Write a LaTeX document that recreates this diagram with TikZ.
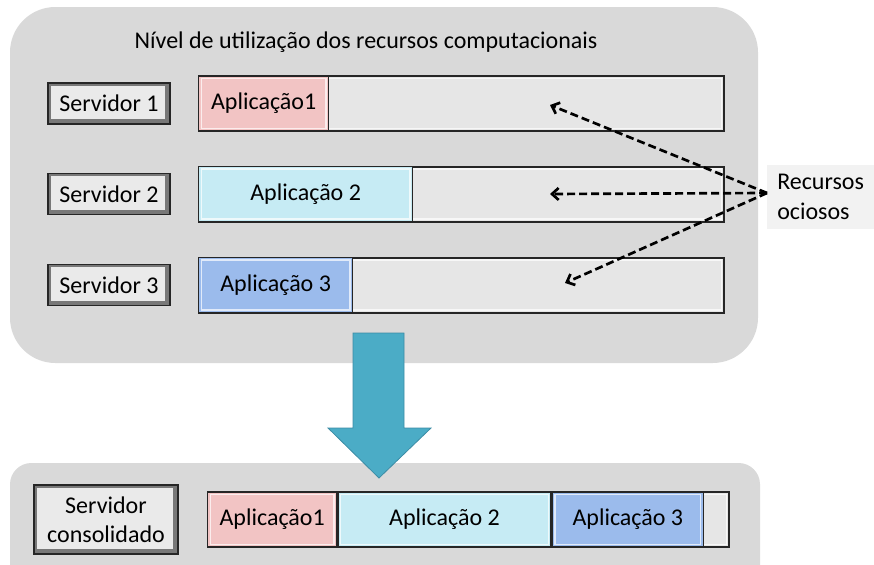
\documentclass[tikz,border=0pt]{standalone}
\usepackage{fontspec}
\setmainfont{Carlito}
\usetikzlibrary{arrows.meta}
\definecolor{panelgrey}{RGB}{217,217,217}
\definecolor{idlegrey}{RGB}{230,230,230}
\definecolor{btnface}{RGB}{234,234,234}
\definecolor{btnedge}{RGB}{120,120,120}
\definecolor{apppink}{RGB}{242,196,196}
\definecolor{appcyan}{RGB}{198,235,244}
\definecolor{appblue}{RGB}{155,187,236}
\definecolor{arrowblue}{RGB}{75,172,198}
\definecolor{arrowedge}{RGB}{60,140,165}
\definecolor{labelgrey}{RGB}{242,242,242}
\begin{document}
\begin{tikzpicture}[x=0.75pt,y=-0.75pt,font=\fontsize{18}{22}\selectfont]
      \tikzset{server node/.style={rectangle, draw=black!85, line width=1pt, fill=btnedge, inner sep=0pt,
          minimum width=91.5pt, minimum height=30.75pt,
          path picture={\fill[btnface] ([shift={(2.5pt,3.5pt)}]path picture bounding box.south west)
            rectangle ([shift={(-3.5pt,-2pt)}]path picture bounding box.north east);}}}
      \tikzset{bar node/.style={rectangle, draw=black!85, line width=1.5pt, fill=idlegrey, inner sep=0pt,
          anchor=west, minimum width=#1, minimum height=41.25pt,
          path picture={\draw[white, line width=1.2pt, opacity=0.7]
            ([shift={(2pt,2pt)}]path picture bounding box.south west)
            rectangle ([shift={(-2pt,-2pt)}]path picture bounding box.north east);}}}
      \tikzset{app node/.style={bar node=#1, line width=1pt}}
      \tikzset{idle arrow/.style={black, line width=2pt, dash pattern=on 6pt off 3pt, -{Straight Barb[length=5pt,width=9pt]}}}
      \useasboundingbox (0,0) rectangle (874,564);
      \clip (0,0) rectangle (874,564);
      % panels
      \fill[panelgrey, rounded corners=34pt] (10,7) rectangle (758,363);
      \fill[panelgrey, rounded corners=16pt] (10,463) rectangle (760,600);
      \node (title) at (366,42) {Nível de utilização dos recursos computacionais};
      % servers before consolidation
      \foreach \i/\y/\w/\col/\txt in {1/103.5/97.5pt/apppink/Aplicação1,
                                       2/194/160.5pt/appcyan/Aplicação 2,
                                       3/285/115.5pt/appblue/Aplicação 3} {
        \node[server node] (srv\i) at (109,\y) {Servidor \i};
        \node[bar node=393.75pt] (bar\i) at (198,\y) {};
        \node[app node=\w, fill=\col] (app\i) at (198,\y) {\txt};
      }
      % idle resources
      \node[fill=labelgrey, minimum width=80pt, minimum height=45pt, align=left, inner sep=7pt, anchor=west] (idle) at (767,197) {Recursos\\ociosos};
      \coordinate (tip1) at (550,105);
      \coordinate (tip2) at (550,194);
      \coordinate (tip3) at (565,283);
      \foreach \i in {1,2,3}
        \draw[idle arrow] ([yshift=3pt]idle.west) -- (tip\i);
      % consolidation arrow
      \filldraw[fill=arrowblue, draw=arrowedge, line width=0.6pt]
        (353,333) -- (404,333) -- (404,428) -- (431,428) -- (379,478) -- (328,428) -- (353,428) -- cycle;
      % consolidated server
      \node[server node, minimum width=108pt, minimum height=51.75pt, align=center] (cons) at (106,519.5) {Servidor\\consolidado};
      \node[bar node=390.75pt] (cbar) at (207,519.5) {};
      \node[app node=96.75pt, fill=apppink] (capp1) at (207,519.5) {Aplicação1};
      \node[app node=159.75pt, fill=appcyan] (capp2) at (capp1.east) {Aplicação 2};
      \node[app node=113.25pt, fill=appblue] (capp3) at (capp2.east) {Aplicação 3};
    \end{tikzpicture}
\end{document}
